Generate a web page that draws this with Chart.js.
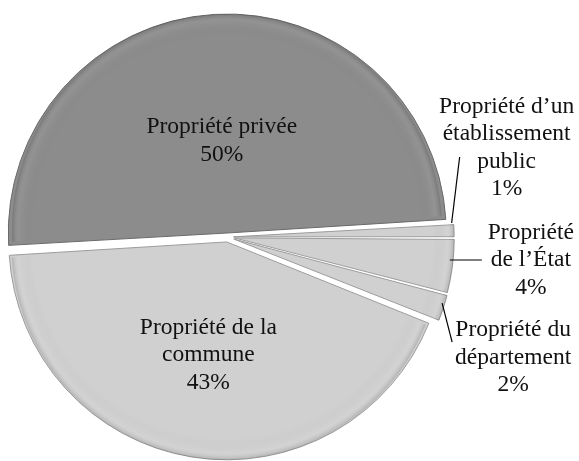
<!DOCTYPE html>
<html><head><meta charset="utf-8">
<script src="https://cdn.jsdelivr.net/npm/chart.js@4.4.0/dist/chart.umd.min.js"></script>
<style>html,body{margin:0;padding:0;background:#fff;}canvas{display:block;}</style>
</head><body>
<canvas id="c" width="579" height="461"></canvas>
<script>
// ---- data ----
const categories = ["Propriété privée", "Propriété d’un établissement public", "Propriété de l’État", "Propriété du département", "Propriété de la commune"];
const shares = [50, 1, 4, 2, 43];
const labelLines = [["Propriété privée"], ["Propriété d’un", "établissement", "public"], ["Propriété", "de l’État"], ["Propriété du", "département"], ["Propriété de la", "commune"]];

// ---- styles ----
const sliceColors = ['#8c8c8c', '#d0d0d0', '#d0d0d0', '#d0d0d0', '#d0d0d0'];
const sliceBorders = ['#6a6a6a', '#9c9c9c', '#9c9c9c', '#9c9c9c', '#9c9c9c'];
const sliceOffsets = [16, 24, 27, 26, 20];
const labelLayout = [
  {inside: 0.41},
  {line: [[-2.4, -7.7], [5.6, -73.7]], text: [52.6, -82.7]},
  {line: [[-2.6, -6.2], [29.4, -6.2]], text: [78.4, -6.2]},
  {line: [[-1.2, -4.9], [8.8, 34.1]], text: [69.8, 49.8]},
  {inside: 0.52}
];
const FONT = '23.5px "Liberation Serif", "Times New Roman", serif';
const LINE_H = 27.5;

const labelPlugin = {
  id: 'sliceLabels',
  afterDatasetsDraw(chart) {
    const ctx = chart.ctx;
    const meta = chart.getDatasetMeta(0);
    meta.data.forEach((arc, i) => {
      const p = arc.getProps(['x', 'y', 'startAngle', 'endAngle', 'outerRadius', 'circumference'], true);
      const mid = (p.startAngle + p.endAngle) / 2;
      const off = (arc.options.offset || 0) / 4;
      const fix = 1 - Math.sin(Math.min(Math.PI, p.circumference || 0));
      const shift = off * (1 + fix);
      const cx = p.x + Math.cos(mid) * shift, cy = p.y + Math.sin(mid) * shift;
      const R = p.outerRadius;
      // rim shading
      ctx.save();
      ctx.beginPath();
      ctx.moveTo(cx, cy);
      ctx.arc(cx, cy, R, p.startAngle, p.endAngle);
      ctx.closePath();
      const g = ctx.createRadialGradient(cx, cy, R * 0.9, cx, cy, R);
      g.addColorStop(0, 'rgba(0,0,0,0)');
      g.addColorStop(0.7, 'rgba(255,255,255,0.06)');
      g.addColorStop(1, 'rgba(0,0,0,0.14)');
      ctx.fillStyle = g;
      ctx.fill();
      ctx.restore();

      const lines = labelLines[i].concat([shares[i] + '%']);
      const lay = labelLayout[i];
      let tx, ty;
      if (lay.inside !== undefined) {
        tx = cx + Math.cos(mid) * R * lay.inside;
        ty = cy + Math.sin(mid) * R * lay.inside;
      } else {
        const ox = cx + Math.cos(mid) * R, oy = cy + Math.sin(mid) * R;
        ctx.save();
        ctx.strokeStyle = '#000';
        ctx.lineWidth = 1.2;
        ctx.beginPath();
        ctx.moveTo(ox + lay.line[0][0], oy + lay.line[0][1]);
        ctx.lineTo(ox + lay.line[1][0], oy + lay.line[1][1]);
        ctx.stroke();
        ctx.restore();
        tx = ox + lay.text[0];
        ty = oy + lay.text[1];
      }
      ctx.save();
      ctx.font = FONT;
      ctx.fillStyle = '#111';
      ctx.textAlign = 'center';
      ctx.textBaseline = 'middle';
      const top = ty - (lines.length - 1) * LINE_H / 2;
      lines.forEach((t, k) => ctx.fillText(t, tx, top + k * LINE_H));
      ctx.restore();
    });
  }
};

new Chart(document.getElementById('c'), {
  type: 'pie',
  data: {
    labels: categories,
    datasets: [{
      data: shares,
      backgroundColor: sliceColors,
      borderColor: sliceBorders,
      borderWidth: 1,
      offset: sliceOffsets,
      hoverOffset: 0
    }]
  },
  options: {
    responsive: false,
    animation: false,
    rotation: 266.6,
    radius: 215,
    layout: {padding: {left: 0, right: 124, top: 13, bottom: 0}},
    events: [],
    plugins: {legend: {display: false}, tooltip: {enabled: false}}
  },
  plugins: [labelPlugin]
});
</script>
</body></html>
